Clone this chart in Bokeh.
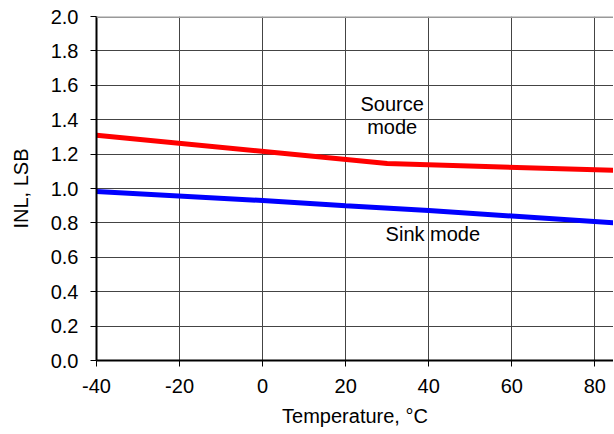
from bokeh.plotting import figure
from bokeh.models import Range1d, FixedTicker, ColumnDataSource, CustomJSTickFormatter, Span
from bokeh.core.properties import value
from bokeh.embed import file_html
from bokeh.resources import INLINE

# Data
temp_source = [-40, 30, 85]
inl_source = [1.31, 1.145, 1.105]
temp_sink = [-40, 0, 20, 40, 60, 85]
inl_sink = [0.983, 0.93, 0.90, 0.872, 0.84, 0.80]
x_ticks = [-40, -20, 0, 20, 40, 60, 80]
y_ticks = [0.0, 0.2, 0.4, 0.6, 0.8, 1.0, 1.2, 1.4, 1.6, 1.8, 2.0]
label_text = ["Source", "mode", "Sink mode"]
label_x = [31.2, 31.2, 41.0]
label_y = [1.494, 1.36, 0.738]

FONT = "Liberation Sans"
FS = "20px"

p = figure(width=613, height=432, output_backend="svg", toolbar_location=None,
           x_range=Range1d(-40, 84.5), y_range=Range1d(0, 2.0),
           min_border_left=96, min_border_top=16, min_border_bottom=72, min_border_right=0)
p.outline_line_color = None
p.background_fill_color = "white"
p.border_fill_color = "white"

for ax in (p.xaxis[0], p.yaxis[0]):
    ax.axis_line_color = "black"
    ax.axis_line_width = 2
    ax.major_tick_line_color = "black"
    ax.major_tick_line_width = 1
    ax.major_tick_out = 6
    ax.major_tick_in = 0
    ax.minor_tick_line_color = None
    ax.major_label_text_font = FONT
    ax.major_label_text_font_size = FS
    ax.major_label_text_color = "black"
    ax.axis_label_text_font = FONT
    ax.axis_label_text_font_size = FS
    ax.axis_label_text_font_style = "normal"
    ax.axis_label_text_color = "black"

p.xaxis.ticker = FixedTicker(ticks=x_ticks)
p.yaxis.ticker = FixedTicker(ticks=y_ticks)
p.xaxis.formatter = CustomJSTickFormatter(code="return String(tick);")
p.yaxis.formatter = CustomJSTickFormatter(code="return tick.toFixed(1);")
p.xaxis.axis_label = "Temperature, °C"
p.yaxis.axis_label = "INL, LSB"
p.xaxis.major_label_standoff = 12
p.yaxis.major_label_standoff = 12
p.xaxis.axis_label_standoff = 9
p.yaxis.axis_label_standoff = 16

p.xgrid.ticker = FixedTicker(ticks=x_ticks)
p.ygrid.ticker = FixedTicker(ticks=y_ticks)
p.grid.grid_line_color = "#444444"
p.grid.grid_line_width = 1

top_line = Span(location=y_ticks[-1], dimension="width", line_color="#999999", line_width=3)
p.add_layout(top_line)

p.line(temp_source, inl_source, line_color="#FF0000", line_width=5)
p.line(temp_sink, inl_sink, line_color="#0000FF", line_width=5)

src = ColumnDataSource(dict(x=label_x, y=label_y, t=label_text))
p.text(x="x", y="y", text="t", source=src, text_align="center", text_baseline="middle",
       text_font=value(FONT), text_font_size=FS, text_color="black")

open("out.html", "w").write(file_html(p, INLINE))
